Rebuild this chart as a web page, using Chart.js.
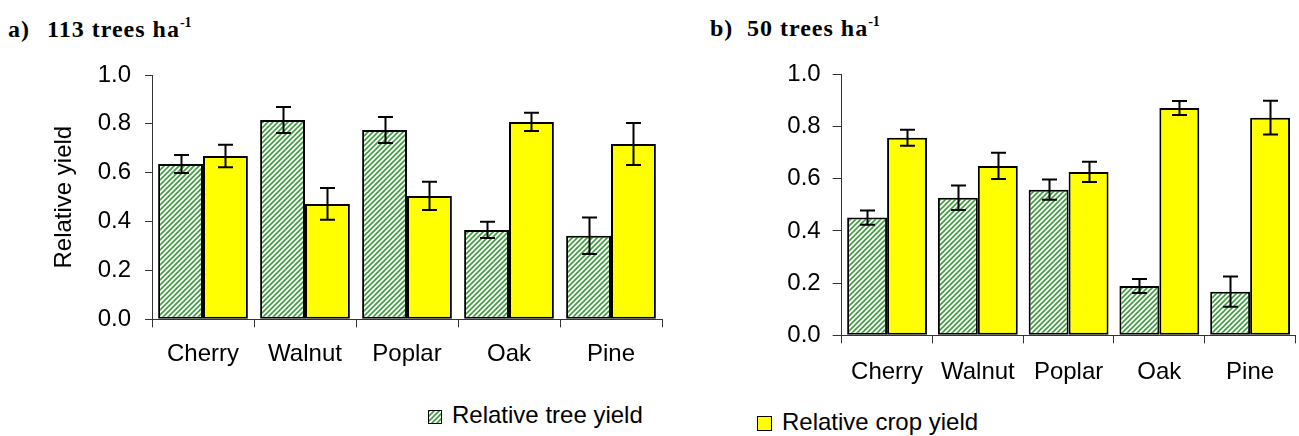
<!DOCTYPE html>
<html>
<head>
<meta charset="utf-8">
<script src="https://cdn.jsdelivr.net/npm/chart.js@4/dist/chart.umd.min.js"></script>
<style>
  html, body { margin:0; padding:0; background:#fff; }
  body { width:1299px; height:436px; position:relative; overflow:hidden; font-family:'Liberation Sans', Arial, sans-serif; }
  canvas { position:absolute; }
  .title { position:absolute; font-family:'Liberation Serif','Times New Roman',serif; font-weight:bold; font-size:24px; line-height:24px; letter-spacing:1px; color:#000; white-space:nowrap; }
  .title sup { font-size:14px; line-height:0; position:relative; top:-1px; letter-spacing:0; }
  .leg { position:absolute; font-size:24px; line-height:24px; color:#000; white-space:nowrap; }
  .sw { position:absolute; box-sizing:border-box; border:1.5px solid #000; }
</style>
</head>
<body>
<div class="title" style="left:8px;top:16.5px;">a)</div>
<div class="title" style="left:47px;top:16.5px;">113 trees ha<sup>-1</sup></div>
<div class="title" style="left:710px;top:15.5px;">b)</div>
<div class="title" style="left:747px;top:15.5px;">50 trees ha<sup>-1</sup></div>

<canvas id="cA" width="680" height="380" style="left:0;top:0;width:680px;height:380px;"></canvas>
<canvas id="cB" width="609" height="400" style="left:690px;top:0;width:609px;height:400px;"></canvas>

<div class="sw" id="swTree" style="left:428px;top:410px;width:14px;height:14px;"></div>
<div class="leg" style="left:452px;top:403px;">Relative tree yield</div>
<div class="sw" style="left:757px;top:416px;width:15px;height:15px;background:#ffff00;"></div>
<div class="leg" style="left:782px;top:410px;">Relative crop yield</div>

<script>
// ---- data ----
const categories = ['Cherry', 'Walnut', 'Poplar', 'Oak', 'Pine'];
const yTicks = [0.0, 0.2, 0.4, 0.6, 0.8, 1.0];
// a) 113 trees ha-1
const treeA    = [0.636, 0.816, 0.775, 0.366, 0.342];
const treeAErr = [0.037, 0.053, 0.053, 0.033, 0.075];
const cropA    = [0.668, 0.472, 0.505, 0.808, 0.718];
const cropAErr = [0.046, 0.065, 0.058, 0.037, 0.086];
// b) 50 trees ha-1
const treeB    = [0.451, 0.527, 0.558, 0.189, 0.167];
const treeBErr = [0.027, 0.047, 0.039, 0.027, 0.058];
const cropB    = [0.757, 0.649, 0.626, 0.871, 0.834];
const cropBErr = [0.031, 0.050, 0.039, 0.027, 0.065];

// ---- hatch pattern ----
function makeHatch() {
  const t = document.createElement('canvas');
  t.width = 5; t.height = 5;
  const c = t.getContext('2d');
  c.fillStyle = '#ffffff'; c.fillRect(0, 0, 5, 5);
  c.strokeStyle = '#3f9c3f'; c.lineWidth = 1.6;
  c.beginPath();
  c.moveTo(-1, 6); c.lineTo(6, -1);
  c.moveTo(-1, 1); c.lineTo(1, -1);
  c.moveTo(4, 6); c.lineTo(6, 4);
  c.stroke();
  return t;
}
const hatchTile = makeHatch();
const hatchA = document.getElementById('cA').getContext('2d').createPattern(hatchTile, 'repeat');
const hatchB = document.getElementById('cB').getContext('2d').createPattern(hatchTile, 'repeat');
document.getElementById('swTree').style.background = 'url(' + hatchTile.toDataURL() + ') repeat';

const FONT = "'Liberation Sans', Arial, sans-serif";

const errorBars = {
  id: 'errorBars',
  afterDatasetsDraw(chart, args, opts) {
    const ctx = chart.ctx;
    const ys = chart.scales.y;
    ctx.save();
    ctx.strokeStyle = '#000';
    ctx.lineWidth = 2;
    chart.data.datasets.forEach((ds, i) => {
      const meta = chart.getDatasetMeta(i);
      meta.data.forEach((bar, j) => {
        const v = ds.data[j], e = ds.errors[j];
        const x = Math.round(bar.x) + 0.5;
        const yt = ys.getPixelForValue(v + e);
        const yb = ys.getPixelForValue(v - e);
        ctx.beginPath();
        ctx.moveTo(x, yt); ctx.lineTo(x, yb);
        ctx.moveTo(x - 7.5, yt); ctx.lineTo(x + 7.5, yt);
        ctx.moveTo(x - 7.5, yb); ctx.lineTo(x + 7.5, yb);
        ctx.stroke();
      });
    });
    ctx.restore();
  }
};

function makeChart(id, tree, treeErr, crop, cropErr, hatch, cfg) {
  return new Chart(document.getElementById(id), {
    type: 'bar',
    data: {
      labels: categories,
      datasets: [
        { label: 'Relative tree yield', data: tree, errors: treeErr, backgroundColor: hatch,
          borderColor: '#000', borderWidth: 2, borderSkipped: false,
          categoryPercentage: 0.88, barPercentage: 1.0 },
        { label: 'Relative crop yield', data: crop, errors: cropErr, backgroundColor: '#ffff00',
          borderColor: '#000', borderWidth: 2, borderSkipped: false,
          categoryPercentage: 0.88, barPercentage: 1.0 }
      ]
    },
    options: {
      responsive: false,
      devicePixelRatio: 1,
      animation: false,
      layout: { padding: cfg.padding },
      plugins: { legend: { display: false }, tooltip: { enabled: false }, title: { display: false } },
      scales: {
        x: {
          grid: { offset: true, drawOnChartArea: false, color: '#333', tickLength: 8, lineWidth: 1 },
          border: { display: true, color: '#333', width: 1 },
          ticks: { color: '#000', font: { family: FONT, size: 24 }, padding: cfg.xPad, maxRotation: 0, autoSkip: false },
          afterFit(s) { s.height = cfg.xHeight; }
        },
        y: {
          min: 0, max: 1,
          afterBuildTicks(s) { s.ticks = yTicks.map(v => ({ value: v })); },
          grid: { drawOnChartArea: false, color: '#333', tickLength: cfg.yTick, lineWidth: 1 },
          border: { display: true, color: '#333', width: 1 },
          ticks: { color: '#000', font: { family: FONT, size: 24 }, padding: cfg.yPad,
                   callback: v => Number(v).toFixed(1) },
          title: cfg.yTitle ? { display: true, text: 'Relative yield', color: '#000',
                   font: { family: FONT, size: 24 }, padding: { top: 50, bottom: 0 } } : { display: false },
          afterFit(s) { s.width = cfg.yWidth; }
        }
      }
    },
    plugins: [errorBars]
  });
}

makeChart('cA', treeA, treeAErr, cropA, cropAErr, hatchA, {
  padding: { top: 75, right: 18, bottom: 0, left: 0 },
  xHeight: 60.7, yWidth: 152, xPad: 13, yPad: 14, yTick: 7, yTitle: true
});
makeChart('cB', treeB, treeBErr, cropB, cropBErr, hatchB, {
  padding: { top: 74.3, right: 3.5, bottom: 0, left: 0 },
  xHeight: 64.7, yWidth: 151.7, xPad: 15, yPad: 12, yTick: 9, yTitle: false
});
</script>
</body>
</html>
